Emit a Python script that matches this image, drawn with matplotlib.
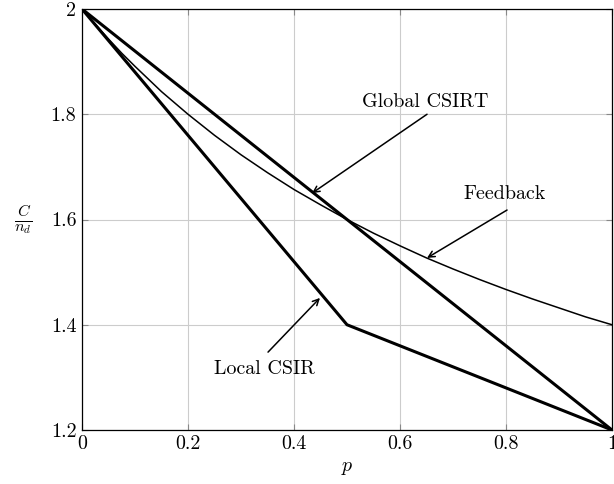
import matplotlib
matplotlib.use('Agg')
from matplotlib import pyplot as plt

# font settings, LaTeX look
plt.rcParams['font.family'] = 'serif'
plt.rcParams['font.serif'] = ['cmr10']
plt.rcParams['mathtext.fontset'] = 'cm'
plt.rcParams['axes.formatter.use_mathtext'] = True

# data
p_lin = [0.0, 1.0]
global_csirt = [2.0, 1.2]

p_local = [0.0, 0.5, 1.0]
local_csir = [2.0, 1.4, 1.2]

p_fb = [0.0, 0.025, 0.05, 0.075, 0.1, 0.125, 0.15, 0.2, 0.25, 0.3, 0.35, 0.4, 0.45, 0.5,
        0.55, 0.6, 0.65, 0.7, 0.75, 0.8, 0.85, 0.9, 0.95, 1.0]
feedback = [2.000, 1.971, 1.943, 1.916, 1.891, 1.867, 1.843, 1.800, 1.760, 1.723, 1.689,
            1.657, 1.628, 1.600, 1.574, 1.550, 1.527, 1.506, 1.486, 1.467, 1.449, 1.432,
            1.415, 1.400]

xticks = [0, 0.2, 0.4, 0.6, 0.8, 1]
xticklabels = ['0', '0.2', '0.4', '0.6', '0.8', '1']
yticks = [1.2, 1.4, 1.6, 1.8, 2]
yticklabels = ['1.2', '1.4', '1.6', '1.8', '2']

fs = 14.4

# create figure
fig = plt.figure(figsize=(6.14, 4.84), dpi=100)
ax = fig.add_axes([82 / 614, 1 - 430 / 484, 530 / 614, 421 / 484])

ax.plot(p_lin, global_csirt, color='black', lw=2.2, solid_capstyle='round')
ax.plot(p_local, local_csir, color='black', lw=2.2, solid_joinstyle='miter')
ax.plot(p_fb, feedback, color='black', lw=1.1)

ax.set_xlim(0, 1)
ax.set_ylim(1.2, 2)
ax.set_xticks(xticks)
ax.set_xticklabels(xticklabels)
ax.set_yticks(yticks)
ax.set_yticklabels(yticklabels)
ax.tick_params(direction='in', top=True, right=True, labelsize=fs, length=4,
               color='#888888', pad=4)
ax.grid(True, color='#cccccc', lw=0.8)
for s in ax.spines.values():
    s.set_linewidth(0.9)

ax.set_xlabel('$p$', fontsize=fs, labelpad=4)
ax.set_ylabel(r'$\frac{C}{n_d}$', fontsize=16.5, rotation=0, labelpad=20, va='center')

# annotations
arrow = dict(arrowstyle='->', lw=1.1, color='black', shrinkA=0, shrinkB=0,
             mutation_scale=11)
ax.annotate('', xy=(0.434, 1.650), xytext=(0.651, 1.800), arrowprops=arrow)
ax.text(0.647, 1.823, 'Global CSIRT', fontsize=fs, ha='center', va='center')

ax.annotate('', xy=(0.651, 1.527), xytext=(0.802, 1.618), arrowprops=arrow)
ax.text(0.798, 1.648, 'Feedback', fontsize=fs, ha='center', va='center')

ax.annotate('', xy=(0.449, 1.451), xytext=(0.351, 1.348), arrowprops=arrow)
ax.text(0.345, 1.316, 'Local CSIR', fontsize=fs, ha='center', va='center')

plt.savefig('out.png', dpi=100)
